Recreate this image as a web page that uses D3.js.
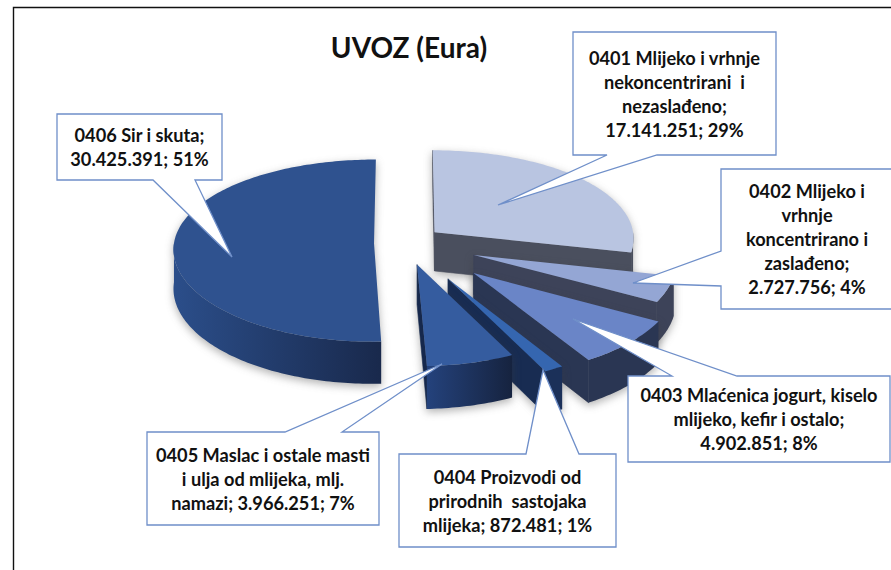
<!DOCTYPE html>
<html>
<head>
<meta charset="utf-8">
<script src="https://cdn.jsdelivr.net/npm/d3@7"></script>
<style>
    html, body { margin: 0; padding: 0; background: #fff; }
    svg { display: block; }
</style>
</head>
<body>
<div id="chart"></div>
<script>
const titleText = "UVOZ (Eura)";
const categories = ["0401", "0402", "0403", "0404", "0405", "0406"];
const values = [17141251, 2727756, 4902851, 872481, 3966251, 30425391];
const percents = [29, 4, 8, 1, 7, 51];
// how the labels wrap, {v} and {p} get filled in from values and percents
const labelLines = [
    ["0401 Mlijeko i vrhnje", "nekoncentrirani  i", "nezaslađeno;", "{v}; {p}%"],
    ["0402 Mlijeko i", "vrhnje", "koncentrirano i", "zaslađeno;", "{v}; {p}%"],
    ["0403 Mlaćenica jogurt, kiselo", "mlijeko, kefir i ostalo;", "{v}; {p}%"],
    ["0404 Proizvodi od", "prirodnih  sastojaka", "mlijeka; {v}; {p}%"],
    ["0405 Maslac i ostale masti", "i ulja od mlijeka, mlj.", "namazi; {v}; {p}%"],
    ["0406 Sir i skuta;", "{v}; {p}%"]
];

// pie look
const explode = [38, 73, 93, 87, 48, 31];
const topColors = ["#b9c5e1", "#94a6d4", "#6a85c7", "#3566b0", "#355c9f", "#2f528f"];
const sideFrom = ["#4a4f5e", "#3d4359", "#2a3653", "#1b3059", "#24427c", "#2b4e8a"];
const sideTo = ["#4a4f5e", "#3d4359", "#2a3653", "#1b3059", "#16233f", "#19294c"];
const faceColors = ["#4a4f5e", "#3d4359", "#2a3653", "#182c52", "#16284c", "#22406f"];

// callout boxes: box, tail base (two points on the box edge), tail tip
const callouts = [
    { x: 573, y: 32, w: 203, h: 123, base: [[607, 155], [657, 155]], tip: [498, 205] },
    { x: 721, y: 169, w: 172, h: 140, base: [[721, 251], [721, 286]], tip: [633, 283] },
    { x: 628, y: 376, w: 262, h: 86, base: [[672, 376], [737, 376]], tip: [573, 319] },
    { x: 399, y: 454, w: 217, h: 93, base: [[526, 454], [579, 454]], tip: [543, 370] },
    { x: 147, y: 432, w: 232, h: 93, base: [[285, 432], [342, 432]], tip: [442, 364] },
    { x: 57, y: 114, w: 165, h: 66, base: [[153, 180], [195, 180]], tip: [232, 257] }
];

const W = 891, H = 570;
const cx = 405, cy = 243, R = 200, tilt = 0.455, perspY = 0.08, perspX = 0.06, depth = 39;

const svg = d3.select("#chart").append("svg")
    .attr("width", W)
    .attr("height", H);

svg.append("rect").attr("width", W).attr("height", H).attr("fill", "#fff");

const defs = svg.append("defs");

// frame, only top and left are in the picture
svg.append("path")
    .attr("d", `M13.5,${H}V7.5H${W}`)
    .attr("fill", "none")
    .attr("stroke", "#111")
    .attr("stroke-width", 1.4);

svg.append("text")
    .attr("x", 409)
    .attr("y", 58)
    .attr("text-anchor", "middle")
    .attr("font-family", "Lato, sans-serif")
    .attr("font-weight", 700)
    .attr("font-size", 28)
    .attr("fill", "#111")
    .text(titleText);

const pie = d3.pie().sort(null).startAngle(0).endAngle(2 * Math.PI);
const arcs = pie(values);

// pie plane -> screen, the near side comes out a bit bigger
function project(u, v, down) {
    const px = 1 + perspX * v / R;
    const py = 1 + perspY * v / R;
    return [cx + u * px, cy + tilt * v * py + (down ? depth * py : 0)];
}

function rimPoint(d, i, a, r, down) {
    const mid = (d.startAngle + d.endAngle) / 2;
    const u = Math.sin(mid) * explode[i] + Math.sin(a) * r;
    const v = -Math.cos(mid) * explode[i] - Math.cos(a) * r;
    return project(u, v, down);
}

const line = d3.line();
const degStep = Math.PI / 180;

const order = [5, 0, 1, 2, 3, 4];

order.forEach(i => {
    const d = arcs[i];
    const g = svg.append("g")
        .style("filter", "drop-shadow(0 3px 4px rgba(60,60,60,0.4))");

    const apex = rimPoint(d, i, 0, 0, false);
    const apexDown = rimPoint(d, i, 0, 0, true);

    // straight cut faces
    [d.startAngle, d.endAngle].forEach((a, k) => {
        const end = rimPoint(d, i, a, R, false);
        const dx = end[0] - apex[0];
        if ((k === 1 && dx > 0.5 && i !== 5) || (k === 0 && dx < -0.5)) {
            g.append("path")
                .attr("d", line([apex, end, rimPoint(d, i, a, R, true), apexDown]) + "Z")
                .attr("fill", faceColors[i])
                .attr("stroke", faceColors[i])
                .attr("stroke-width", 0.6);
        }
    });

    // outer wall, only the part that looks at the viewer
    const a0 = Math.max(d.startAngle, Math.PI / 2);
    const a1 = Math.min(d.endAngle, 3 * Math.PI / 2);
    if (a1 > a0) {
        const angles = d3.range(a0, a1, degStep).concat([a1]);
        const upper = angles.map(a => rimPoint(d, i, a, R, false));
        const lower = angles.slice().reverse().map(a => rimPoint(d, i, a, R, true));
        const xs = upper.map(p => p[0]);
        const gradId = "side" + i;
        const grad = defs.append("linearGradient")
            .attr("id", gradId)
            .attr("gradientUnits", "userSpaceOnUse")
            .attr("x1", d3.min(xs)).attr("x2", d3.max(xs))
            .attr("y1", 0).attr("y2", 0);
        grad.append("stop").attr("offset", 0).attr("stop-color", sideFrom[i]);
        grad.append("stop").attr("offset", 1).attr("stop-color", sideTo[i]);
        g.append("path")
            .attr("d", line(upper.concat(lower)) + "Z")
            .attr("fill", `url(#${gradId})`);
    }

    // top face
    const topAngles = d3.range(d.startAngle, d.endAngle, degStep).concat([d.endAngle]);
    const topPts = [apex].concat(topAngles.map(a => rimPoint(d, i, a, R, false)));
    g.append("path")
        .attr("d", line(topPts) + "Z")
        .attr("fill", topColors[i]);
});

// callouts sit on top of the pie
const fmt = d3.formatLocale({ decimal: ",", thousands: ".", grouping: [3], currency: ["", ""] }).format(",d");

callouts.forEach((c, i) => {
    const g = svg.append("g");
    const r = c.x + c.w, b = c.y + c.h;
    const sorted = c.base;
    let path;
    if (c.base[0][1] === c.y) {
        // tail leaves from the top edge
        path = `M${c.x},${c.y}L${sorted[0]}L${c.tip}L${sorted[1]}L${r},${c.y}L${r},${b}L${c.x},${b}Z`;
    } else if (c.base[0][0] === c.x) {
        // left edge
        path = `M${c.x},${c.y}L${r},${c.y}L${r},${b}L${c.x},${b}L${sorted[1]}L${c.tip}L${sorted[0]}Z`;
    } else {
        // bottom edge
        path = `M${c.x},${c.y}L${r},${c.y}L${r},${b}L${sorted[1]}L${c.tip}L${sorted[0]}L${c.x},${b}Z`;
    }
    g.append("path")
        .attr("d", path)
        .attr("fill", "#fff")
        .attr("stroke", "#6f8fc9")
        .attr("stroke-width", 1.3)
        .attr("stroke-linejoin", "miter");

    const lines = labelLines[i];
    const lh = 24;
    const mid = c.y + c.h / 2;
    lines.forEach((t, k) => {
        g.append("text")
            .attr("x", c.x + c.w / 2)
            .attr("y", mid + (k - (lines.length - 1) / 2) * lh + 7)
            .attr("text-anchor", "middle")
            .attr("font-family", "Lato, sans-serif")
            .attr("font-weight", 700)
            .attr("font-size", 18.2)
            .attr("fill", "#111")
            .style("white-space", "pre")
            .text(t.replace("{v}", fmt(values[i])).replace("{p}", percents[i]));
    });
});
</script>
</body>
</html>
